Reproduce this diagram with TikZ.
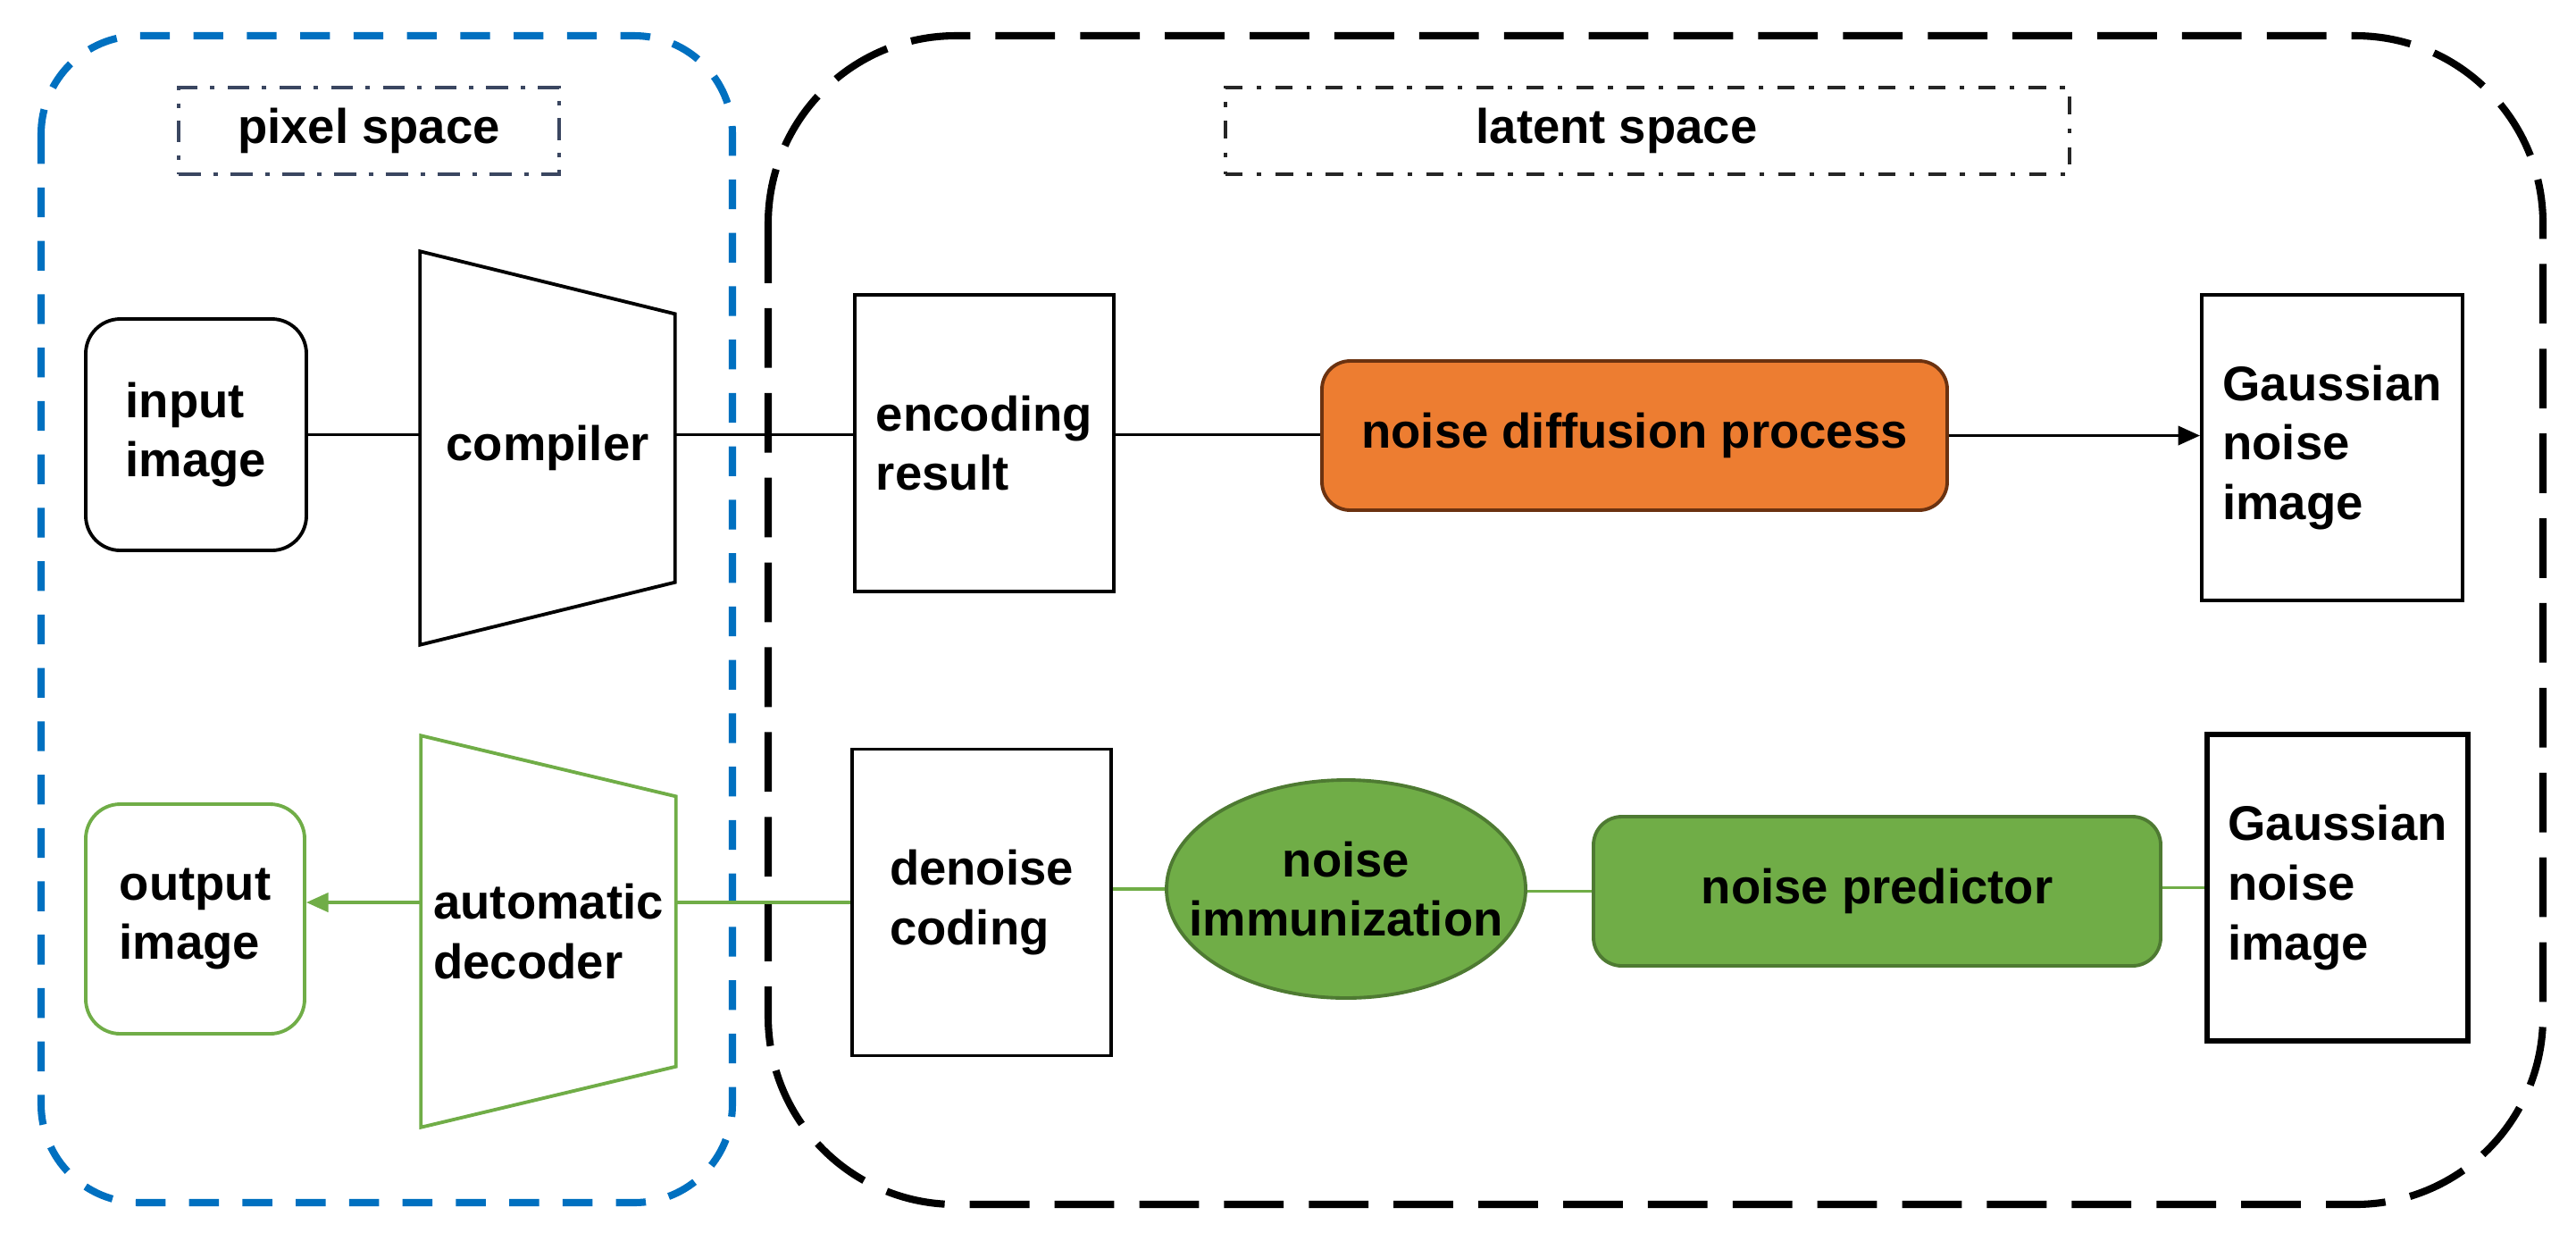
\documentclass[tikz,border=0pt]{standalone}
\usepackage{fontspec}
\setmainfont{Liberation Sans}
\usetikzlibrary{arrows.meta,shapes.geometric,calc}
\definecolor{lsblue}{HTML}{0070C0}
\definecolor{lsorange}{HTML}{ED7D31}
\definecolor{lsorangeD}{HTML}{6B3210}
\definecolor{lsgreen}{HTML}{70AD47}
\definecolor{lsgreenD}{HTML}{4E7A32}
\definecolor{lsnavy}{HTML}{3A4660}

\begin{document}
\begin{tikzpicture}[
  >={Triangle[length=7pt,width=6pt]},
  lab/.style={font=\fontsize{15.5}{19}\selectfont\bfseries, align=left, inner sep=0pt},
  box/.style={lab, draw=black, line width=1.1pt},
  rbox/.style={box, rounded corners=11pt},
  trap/.style={lab},
  pill/.style={lab, align=center, rounded corners=9pt, line width=1.1pt},
  tag/.style={lab, align=center, line width=1.1pt, minimum height=0.97cm},
  area/.style={line width=2.3pt},
  lnk/.style={line width=1.1pt, draw=black},
  glnk/.style={line width=1.1pt, draw=lsgreen}
]
\path[use as bounding box, fill=white] (0,0) rectangle (28.84,-13.79);

% pixel space and latent space
\draw[area, draw=lsblue, dash pattern=on 9.5pt off 7.5pt, rounded corners=1.1cm] (0.46,-0.40) rectangle (8.20,-13.46);
\draw[area, draw=black, dash pattern=on 19pt off 8pt, rounded corners=2.1cm] (8.60,-0.40) rectangle (28.47,-13.48);
\node[tag, draw=lsnavy, dash pattern=on 7pt off 4pt on 1.5pt off 4pt, minimum width=4.26cm] (pix) at (4.13,-1.465) {pixel space};
\node[tag, draw=black!85, dash pattern=on 5.5pt off 4.5pt on 1.5pt off 4.5pt, minimum width=9.45cm] (lat) at (18.445,-1.465) {};
\node[lab] (latl) at (18.10,-1.465) {latent space};

% forward (noising) row
\node[rbox, minimum width=2.47cm, minimum height=2.59cm] (inp) at (2.195,-4.865) {input\\image};
\node[trap, minimum width=2.84cm, minimum height=4.39cm] (cmp) at (6.13,-5.015) {\raisebox{1mm}{compiler}};
\draw[line width=1.1pt] (cmp.north west) -- ([yshift=-7mm]cmp.north east) -- ([yshift=7mm]cmp.south east) -- (cmp.south west) -- cycle;
\node[box, minimum width=2.90cm, minimum height=3.32cm] (enc) at (11.02,-4.96) {encoding\\result};
\node[pill, draw=lsorangeD, fill=lsorange, minimum width=7.00cm, minimum height=1.67cm] (dif) at (18.30,-4.875) {noise diffusion process};
\node[box, minimum width=2.92cm, minimum height=3.42cm] (gtop) at (26.11,-5.01) {Gaussian\\noise\\image};

\draw[lnk] (inp.east) -- (inp.east -| cmp.west);
\draw[lnk] (inp.east -| cmp.east) -- (inp.east -| enc.west);
\draw[lnk] (inp.east -| enc.east) -- (inp.east -| dif.west);
\draw[lnk,->] (dif.east) -- (dif.east -| gtop.west);

% reverse (denoising) row
\node[rbox, draw=lsgreen, minimum width=2.45cm, minimum height=2.57cm] (out) at (2.185,-10.285) {output\\image};
\node[trap, minimum width=2.84cm, minimum height=4.37cm] (dec) at (6.14,-10.425) {automatic\\decoder};
\draw[line width=1.1pt, lsgreen] (dec.north west) -- ([yshift=-6.8mm]dec.north east) -- ([yshift=6.8mm]dec.south east) -- (dec.south west) -- cycle;
\node[box, minimum width=2.90cm, minimum height=3.43cm] (den) at (10.99,-10.10) {denoise\\coding};
\node[ellipse, draw=lsgreenD, fill=lsgreen, line width=1.1pt, minimum width=4.02cm, minimum height=2.44cm,
  label={[lab, align=center]center:noise\\immunization}] (imm) at (15.07,-9.95) {};
\node[pill, draw=lsgreenD, fill=lsgreen, minimum width=6.35cm, minimum height=1.67cm] (prd) at (21.015,-9.975) {noise predictor};
\node[box, line width=1.6pt, minimum width=2.92cm, minimum height=3.43cm] (gbot) at (26.17,-9.935) {Gaussian\\noise\\image};

\draw[glnk] (gbot.west) -- (gbot.west -| prd.east);
\draw[glnk] (prd.west) -- (prd.west -| imm.east);
\draw[glnk] (imm.west) -- (imm.west -| den.east);
\draw[glnk] (den.west) -- (den.west -| dec.east);
\draw[glnk,->] (den.west -| dec.west) -- (den.west -| out.east);
\end{tikzpicture}
\end{document}
